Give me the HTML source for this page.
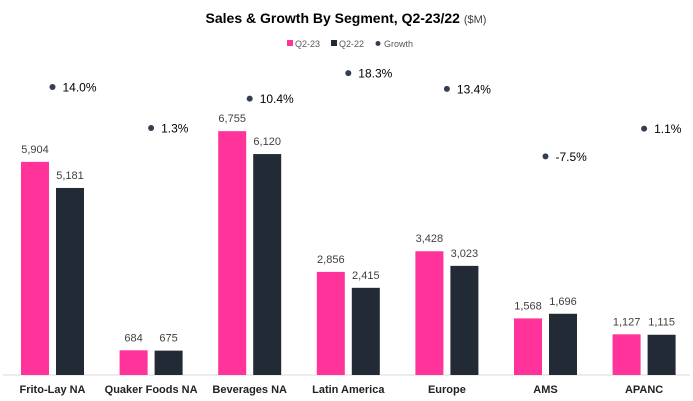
<!DOCTYPE html>
<html><head><meta charset="utf-8"><style>
body{margin:0;background:#fff;}
svg{display:block;font-family:"Liberation Sans",sans-serif;}
</style></head><body>
<svg id="chart" width="693" height="401" viewBox="0 0 693 401" xmlns="http://www.w3.org/2000/svg">
<text x="346" y="23" text-anchor="middle" font-size="14" font-weight="bold" fill="#000">Sales &amp; Growth By Segment, Q2-23/22 <tspan font-size="11" font-weight="normal" fill="#404040">($M)</tspan></text>
<g font-size="9" fill="#595959">
<rect x="287" y="40" width="6" height="6" fill="#ff3399"/>
<text x="295" y="47">Q2-23</text>
<rect x="331" y="40" width="6" height="6" fill="#222a35"/>
<text x="339" y="47">Q2-22</text>
<circle cx="378" cy="43.5" r="2.5" fill="#333f50"/>
<text x="384" y="47">Growth</text>
</g>
<line x1="3" y1="375" x2="690" y2="375" stroke="#d9d9d9" stroke-width="1"/>
<g id="marks"></g>
</svg>
<script>
const categories=["Frito-Lay NA","Quaker Foods NA","Beverages NA","Latin America","Europe","AMS","APANC"];
const q223=[5904,684,6755,2856,3428,1568,1127];
const q222=[5181,675,6120,2415,3023,1696,1115];
const growth=[14.0,1.3,10.4,18.3,13.4,-7.5,1.1];
const NS="http://www.w3.org/2000/svg";
const g=document.getElementById('marks');
const base=375, k=0.0361;
function yS(v){return base-v*k;}
function yG(p){return 132.2-p*3.23;}
function xC(i){return 52.5+i*98.6;}
function mk(t,a){const e=document.createElementNS(NS,t);for(const n in a)e.setAttribute(n,a[n]);g.appendChild(e);return e;}
function fmt(v){return v.toLocaleString('en-US');}
categories.forEach((c,i)=>{
  const cx=xC(i);
  const b1=mk('rect',{x:cx-31.5,y:yS(q223[i]),width:28,height:q223[i]*k,fill:'#ff3399'});
  
  
  const b2=mk('rect',{x:cx+3.5,y:yS(q222[i]),width:28,height:q222[i]*k,fill:'#222a35'});
  
  
  const l1=mk('text',{x:cx-17.5,y:yS(q223[i])-9,'text-anchor':'middle','font-size':'11',fill:'#404040'});
  l1.textContent=fmt(q223[i]);
  
  
  const l2=mk('text',{x:cx+17.5,y:yS(q222[i])-9,'text-anchor':'middle','font-size':'11',fill:'#404040'});
  l2.textContent=fmt(q222[i]);
  
  
  const d=mk('circle',{cx:cx,cy:yG(growth[i]),r:3,fill:'#333f50'});
  
  
  const gl=mk('text',{x:cx+10,y:yG(growth[i])+4.5,'font-size':'12',fill:'#000'});
  gl.textContent=growth[i].toFixed(1)+'%';
  
  
  const cl=mk('text',{x:cx,y:393,'text-anchor':'middle','font-size':'11','font-weight':'bold',fill:'#222'});
  cl.textContent=c;
  
  
});
</script>
</body></html>
